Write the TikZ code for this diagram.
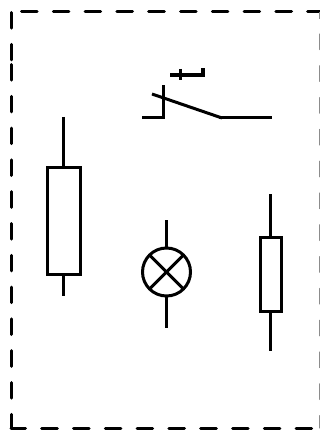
\documentclass[tikz,border=0pt]{standalone}
\tikzset{
  wire/.style={line width=3pt,black},
  borderline/.style={line width=3pt,black,line cap=round,dash pattern=on 15.6pt off 16.2pt},
}
\begin{document}
\begin{tikzpicture}[x=1pt,y=-1pt]
\useasboundingbox (0,0) rectangle (320,430);
\clip (0,0) rectangle (320,430);
% dashed frame
\draw[borderline,dash phase=1.9pt] (11,428) -- (11,64);
\draw[borderline] (11,12.5) -- (11,63);
\draw[borderline] (21.5,12) -- (320,12);
\draw[borderline,dash phase=1.1pt] (11,428) -- (320,428);
\draw[borderline,line width=1.2pt,black!45] (320,34) -- (320,428);
\draw[line width=1.2pt,black!45] (320,12) -- (320,19);
% switch
\draw[wire] (142,118) -- (163.5,118) -- (163.5,85);
\draw[wire] (152,94) -- (222,118);
\draw[wire] (219,118) -- (272,118);
% push button
\draw[line width=4.5pt] (170,75) -- (203,75) -- (203,68);
\draw[wire] (180,69) -- (180,80);
% left resistor
\draw[wire] (47.5,168) rectangle (80,274);
\draw[wire] (63.5,117) -- (63.5,168);
\draw[wire] (63.5,274) -- (63.5,296);
% right resistor
\draw[wire] (260.5,237) rectangle (281.5,311);
\draw[wire] (270.5,194) -- (270.5,237);
\draw[wire] (270.5,311) -- (270.5,351);
% lamp
\draw[wire] (166.5,272) circle (24);
\draw[wire] (149.5,255) -- (183.5,289);
\draw[wire] (183.5,255) -- (149.5,289);
\draw[wire] (166.5,220) -- (166.5,248);
\draw[wire] (166.5,296) -- (166.5,328);
\end{tikzpicture}
\end{document}
